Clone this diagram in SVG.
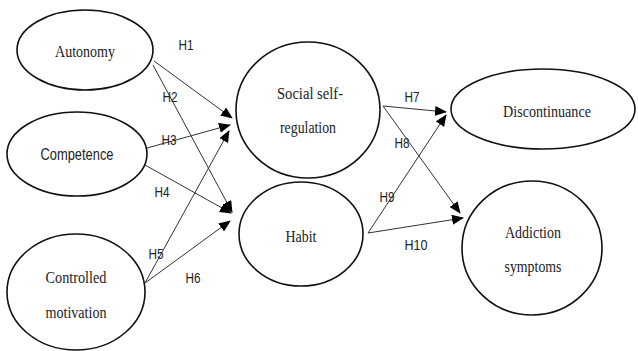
<svg xmlns="http://www.w3.org/2000/svg" width="638" height="351" viewBox="0 0 638 351">
<style>
.node{fill:#fff;stroke:#111;stroke-width:1.6}
.serif{font-family:"Liberation Serif","Times New Roman",serif;font-size:17px;fill:#222;text-anchor:middle}
.sans{font-family:"Liberation Sans",Arial,sans-serif;font-size:16px;fill:#222;text-anchor:middle}
.lab{font-family:"Liberation Sans",Arial,sans-serif;font-size:14px;fill:#222;text-anchor:middle}
.edge{stroke:#333;stroke-width:1;fill:none;marker-end:url(#ah)}
</style>
<defs>
<marker id="ah" markerWidth="12" markerHeight="10" refX="11" refY="5" orient="auto" markerUnits="userSpaceOnUse">
<path d="M0,0 L12,5 L0,10 z" fill="#000"/>
</marker>
</defs>
<rect width="638" height="351" fill="#fff"/>
<g id="edges">
<line class="edge" x1="154" y1="61" x2="232" y2="118"/>
<line class="edge" x1="153" y1="65" x2="232" y2="212"/>
<line class="edge" x1="147" y1="148" x2="230" y2="125"/>
<line class="edge" x1="145" y1="165" x2="231" y2="213"/>
<line class="edge" x1="145" y1="283" x2="229" y2="131"/>
<line class="edge" x1="145" y1="283" x2="230" y2="221"/>
<line class="edge" x1="383" y1="106" x2="446" y2="112"/>
<line class="edge" x1="383" y1="106" x2="460" y2="213"/>
<line class="edge" x1="368" y1="233" x2="446" y2="115"/>
<line class="edge" x1="368" y1="233" x2="463" y2="218"/>
<g id="labels">
<text class="lab" x="186" y="50" textLength="15" lengthAdjust="spacingAndGlyphs">H1</text>
<text class="lab" x="170" y="102" textLength="15" lengthAdjust="spacingAndGlyphs">H2</text>
<text class="lab" x="169" y="145" textLength="15" lengthAdjust="spacingAndGlyphs">H3</text>
<text class="lab" x="162" y="197" textLength="15" lengthAdjust="spacingAndGlyphs">H4</text>
<text class="lab" x="156" y="259" textLength="15" lengthAdjust="spacingAndGlyphs">H5</text>
<text class="lab" x="193" y="283" textLength="15" lengthAdjust="spacingAndGlyphs">H6</text>
<text class="lab" x="412" y="102" textLength="15" lengthAdjust="spacingAndGlyphs">H7</text>
<text class="lab" x="402" y="148" textLength="15" lengthAdjust="spacingAndGlyphs">H8</text>
<text class="lab" x="387" y="202" textLength="15" lengthAdjust="spacingAndGlyphs">H9</text>
<text class="lab" x="416" y="250" textLength="23" lengthAdjust="spacingAndGlyphs">H10</text>
</g>
</g>
<g id="autonomy">
<ellipse class="node" cx="85" cy="50" rx="68" ry="40"/>
<text class="serif" x="85" y="57" textLength="60" lengthAdjust="spacingAndGlyphs">Autonomy</text>
</g>
<g id="competence">
<ellipse class="node" cx="77" cy="154" rx="70" ry="42"/>
<text class="sans" x="77" y="160" textLength="73" lengthAdjust="spacingAndGlyphs">Competence</text>
</g>
<g id="controlled">
<ellipse class="node" cx="76" cy="292" rx="69" ry="58"/>
<text class="serif" x="76" y="283" textLength="61" lengthAdjust="spacingAndGlyphs">Controlled</text>
<text class="serif" x="76" y="318" textLength="61" lengthAdjust="spacingAndGlyphs">motivation</text>
</g>
<g id="social">
<ellipse class="node" cx="308" cy="110" rx="72" ry="68"/>
<text class="serif" x="310" y="99" textLength="66" lengthAdjust="spacingAndGlyphs">Social self-</text>
<text class="serif" x="308" y="133" textLength="56" lengthAdjust="spacingAndGlyphs">regulation</text>
</g>
<g id="habit">
<ellipse class="node" cx="301" cy="234" rx="62" ry="52"/>
<text class="serif" x="301" y="242" textLength="31" lengthAdjust="spacingAndGlyphs">Habit</text>
</g>
<g id="discontinuance">
<ellipse class="node" cx="543" cy="109" rx="92" ry="40"/>
<text class="serif" x="547" y="117" textLength="88" lengthAdjust="spacingAndGlyphs">Discontinuance</text>
</g>
<g id="addiction">
<ellipse class="node" cx="532" cy="248" rx="70" ry="67"/>
<text class="serif" x="533" y="238" textLength="56" lengthAdjust="spacingAndGlyphs">Addiction</text>
<text class="serif" x="533" y="272" textLength="57" lengthAdjust="spacingAndGlyphs">symptoms</text>
</g>
</svg>
